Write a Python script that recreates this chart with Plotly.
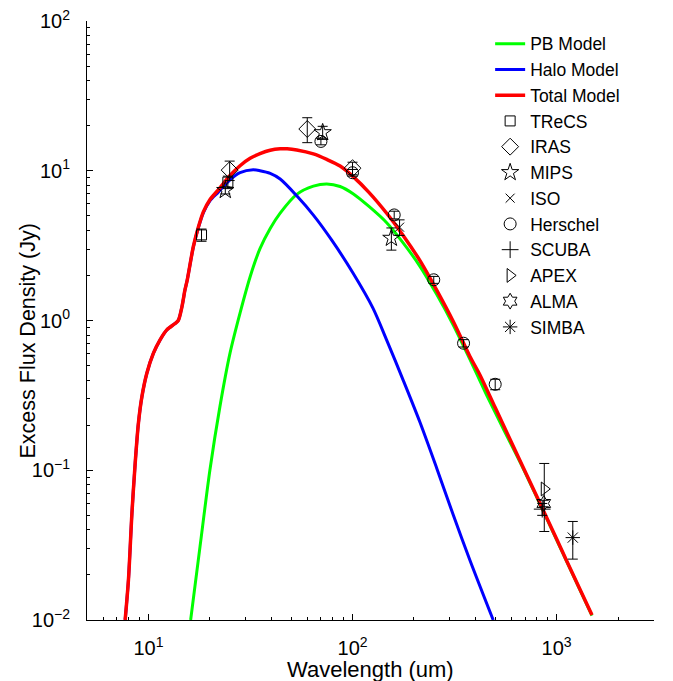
import plotly.graph_objects as go

# ---------------- model curves ----------------
wl_total = [7.69, 7.98, 8.30, 8.61, 8.93, 9.29, 9.82, 10.58, 11.4, 12.3, 13.5, 14.0,
            14.6, 15.1, 15.5, 16.6, 17.6, 18.6, 20.0, 22.0, 25.1, 28.1, 31.5, 35.2,
            39.5, 44.2, 47.8, 53.3, 64.3, 74.8, 86.9, 101, 120, 147, 177, 214, 258,
            312, 376, 421, 500, 661, 798, 1000, 1119, 1490]
f_total = [0.010, 0.0185, 0.0516, 0.111, 0.206, 0.31, 0.444, 0.605, 0.742, 0.865, 0.955, 1.0,
           1.24, 1.6, 1.87, 3.12, 4.24, 5.33, 6.4, 7.46, 9.3, 10.8, 12.1, 13.0,
           13.7, 14.0, 14.0, 13.75, 12.95, 11.9, 10.75, 9.1, 7.2, 5.2, 3.7, 2.51, 1.6,
           0.98, 0.575, 0.433, 0.262, 0.116, 0.0672, 0.0347, 0.0249, 0.0108]

wl_halo = [7.69, 7.98, 8.30, 8.61, 8.93, 9.29, 9.82, 10.58, 11.4, 12.3, 13.5, 14.0,
           14.6, 15.1, 15.5, 16.6, 17.6, 18.6, 20.0, 22.0, 25.1, 28.1, 32.6, 35.2,
           39.5, 44.2, 53.3, 64.3, 79.4, 100, 125.9, 147, 177, 214, 258, 312, 376, 489]
f_halo = [0.010, 0.0185, 0.0516, 0.111, 0.206, 0.31, 0.444, 0.605, 0.742, 0.865, 0.955, 1.0,
          1.24, 1.6, 1.87, 3.1, 4.2, 5.25, 6.3, 7.2, 8.7, 9.7, 10.15, 10.0,
          9.6, 8.8, 6.8, 5.05, 3.41, 2.1, 1.21, 0.74, 0.40, 0.209, 0.104, 0.050, 0.0251, 0.010]

wl_pb = [16.1, 17.9, 20.0, 22.4, 25.1, 28.1, 31.5, 35.2, 39.5, 44.2, 53.3, 64.3, 74.8,
         86.9, 101, 120, 147, 177, 214, 258, 312, 376, 454, 547, 661, 798, 1000, 1490]
f_pb = [0.010, 0.031, 0.1, 0.266, 0.605, 1.12, 1.96, 3.02, 4.12, 5.21, 6.95, 7.89, 8.17,
        7.85, 7.0, 5.8, 4.5, 3.3, 2.3, 1.5, 0.93, 0.55, 0.318, 0.19, 0.114, 0.0665, 0.0343, 0.0107]

# ---------------- observations ----------------
trecs_wl = [18.2, 24.5]
trecs_f = [3.73, 8.4]
trecs_e = [0.35, 0.8]

iras_wl = [25, 60, 100]
iras_f = [10.1, 19.0, 10.4]
iras_e = [1.5, 3.6, 1.0]

mips_wl = [23.8, 71.4, 155]
mips_f = [7.4, 18.0, 3.55]
mips_e = [0.4, 1.8, 0.6]

iso_wl = [170]
iso_f = [4.2]
iso_e = [0.5]

hers_wl = [70, 100, 160, 250, 350, 500]
hers_f = [15.7, 9.7, 5.07, 1.87, 0.705, 0.375]
hers_e = [0.8, 0.5, 0.3, 0.1, 0.04, 0.03]

scuba_wl = [850]
scuba_f = [0.055]
scuba_e = [0.005]

apex_wl = [870]
apex_f = [0.075]
apex_e = [0.036]

alma_wl = [865]
alma_f = [0.06]
alma_e = [0.003]

simba_wl = [1200]
simba_f = [0.0355]
simba_e = [0.01]

x_tickvals = [10, 100, 1000]
x_ticktext = ["10<sup>1</sup>", "10<sup>2</sup>", "10<sup>3</sup>"]
y_tickvals = [0.01, 0.1, 1, 10, 100]
y_ticktext = ["10<sup>\u22122</sup>", "10<sup>\u22121</sup>", "10<sup>0</sup>",
              "10<sup>1</sup>", "10<sup>2</sup>"]

FONT = "Liberation Sans, Arial, Helvetica, sans-serif"

fig = go.Figure()
fig.add_trace(go.Scatter(x=wl_pb, y=f_pb, mode="lines", name="PB Model",
                         line=dict(color="#00ff00", width=3, shape="spline", smoothing=0.8)))
fig.add_trace(go.Scatter(x=wl_halo, y=f_halo, mode="lines", name="Halo Model",
                         line=dict(color="#0000ff", width=3, shape="spline", smoothing=0.8)))
fig.add_trace(go.Scatter(x=wl_total, y=f_total, mode="lines", name="Total Model",
                         line=dict(color="#ff0000", width=3.5, shape="spline", smoothing=0.8)))

def obs(name, wl, f, e, sym, size=11):
    fig.add_trace(go.Scatter(
        x=wl, y=f, mode="markers", name=name,
        marker=dict(symbol=sym, size=size, color="black",
                    line=dict(color="black", width=1)),
        error_y=dict(type="data", array=e, color="black", thickness=1, width=5),
    ))

obs("TReCS", trecs_wl, trecs_f, trecs_e, "square-open", 10)
obs("IRAS", iras_wl, iras_f, iras_e, "diamond-open", 13)
obs("MIPS", mips_wl, mips_f, mips_e, "star-open", 13)
obs("ISO", iso_wl, iso_f, iso_e, "x-thin-open", 9)
obs("Herschel", hers_wl, hers_f, hers_e, "circle-open", 12)
obs("SCUBA", scuba_wl, scuba_f, scuba_e, "cross-thin-open", 12)
obs("APEX", apex_wl, apex_f, apex_e, "triangle-right-open", 12)
obs("ALMA", alma_wl, alma_f, alma_e, "hexagram-open", 12)
obs("SIMBA", simba_wl, simba_f, simba_e, "asterisk-open", 12)

minor_x = [m * 10 ** d for d in range(0, 4) for m in range(2, 10)]
minor_y = [m * 10.0 ** d for d in range(-2, 2) for m in range(2, 10)]

fig.update_xaxes(type="log", range=[0.69897, 3.4771], showline=True, linecolor="black",
                 linewidth=1, ticks="inside", ticklen=6, tickcolor="black", automargin=False,
                 tickvals=x_tickvals, ticktext=x_ticktext, showgrid=False, zeroline=False,
                 tickfont=dict(size=20, color="black", family=FONT), ticklabelstandoff=10,
                 ticklabeloverflow="allow",
                 minor=dict(tickmode="array", tickvals=minor_x, ticks="inside", ticklen=3,
                            tickcolor="black", showgrid=False))
fig.update_yaxes(type="log", range=[-2, 2], showline=True, linecolor="black",
                 linewidth=1, ticks="inside", ticklen=6, tickcolor="black", automargin=False,
                 tickvals=y_tickvals, ticktext=y_ticktext, showgrid=False, zeroline=False,
                 tickfont=dict(size=20, color="black", family=FONT), ticklabelstandoff=12,
                 ticklabeloverflow="allow",
                 minor=dict(tickmode="array", tickvals=minor_y, ticks="inside", ticklen=3,
                            tickcolor="black", showgrid=False))

fig.add_annotation(text="Wavelength (um)", xref="paper", yref="paper", x=0.5, y=-0.083,
                   xanchor="center", yanchor="middle", showarrow=False,
                   font=dict(size=22, color="black", family=FONT))
fig.add_annotation(text="Excess Flux Density (Jy)", xref="paper", yref="paper", x=-0.104, y=0.465,
                   xanchor="center", yanchor="middle", showarrow=False, textangle=-90,
                   font=dict(size=21.5, color="black", family=FONT))

fig.update_layout(
    width=673, height=681,
    margin=dict(l=87, r=19, t=21, b=61),
    plot_bgcolor="white", paper_bgcolor="white",
    font=dict(family=FONT, color="black"),
    legend=dict(x=0.711, y=0.992, xanchor="left", yanchor="top",
                bgcolor="rgba(0,0,0,0)", borderwidth=0,
                font=dict(size=17.5, color="black", family=FONT),
                tracegroupgap=0, itemsizing="trace"),
    showlegend=True,
)

# remove the default 8px page-body margin so the figure fills the window exactly
fig.write_html("out.html", config={"displayModeBar": False},
               post_script="document.body.style.margin='0';")
